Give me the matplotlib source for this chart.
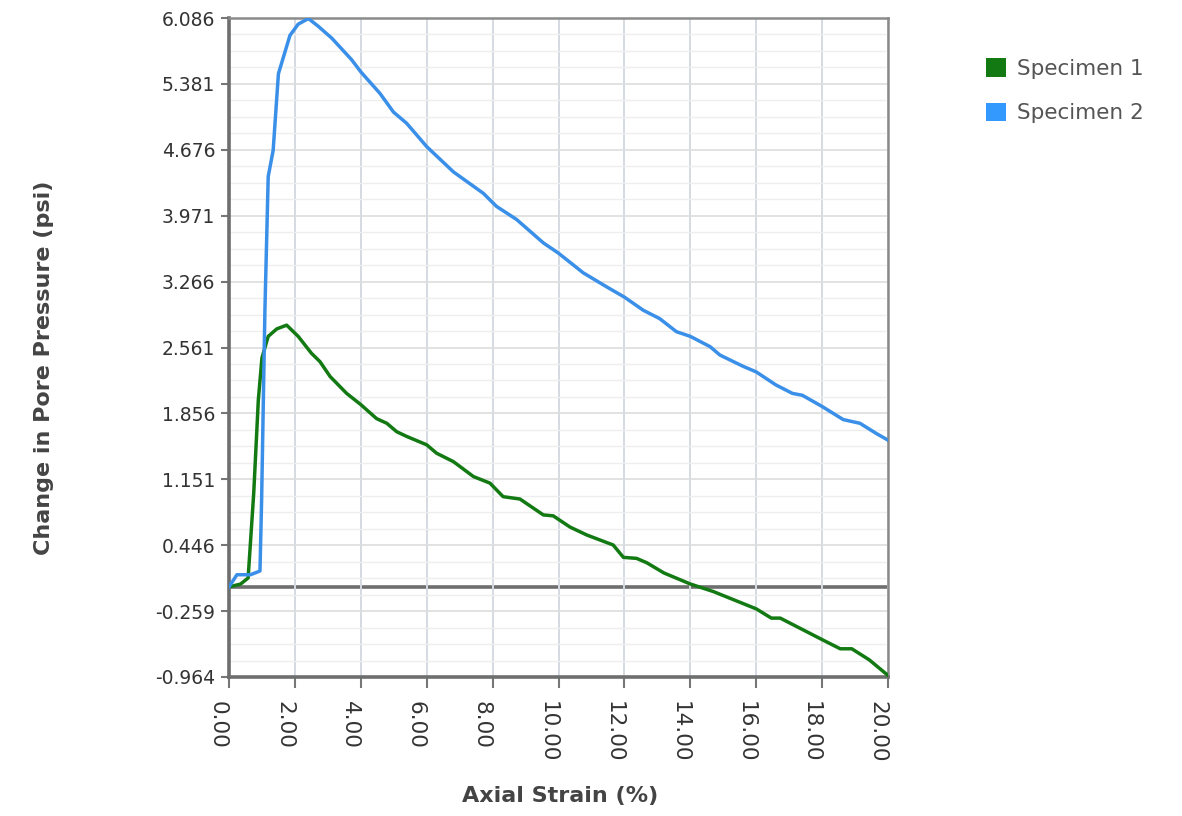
import matplotlib
matplotlib.use("Agg")
import matplotlib.pyplot as plt
import matplotlib.transforms as mtransforms
from matplotlib.patches import Patch

# ---- data ----
s1_x = [0.0, 0.35, 0.58, 0.75, 0.89, 1.0, 1.19, 1.45, 1.75, 2.1, 2.5, 2.76, 3.07, 3.57, 4.0,
        4.48, 4.79, 5.09, 5.39, 6.0, 6.3, 6.81, 7.42, 7.92, 8.32, 8.83, 9.54, 9.84, 10.35,
        10.86, 11.66, 11.97, 12.37, 12.68, 13.2, 14.0, 14.7, 16.0, 16.46, 16.73, 18.0,
        18.55, 18.9, 19.43, 20.0]
s1_y = [0.0, 0.03, 0.095, 1.0, 2.0, 2.45, 2.68, 2.76, 2.80, 2.68, 2.50, 2.41, 2.25, 2.07, 1.95,
        1.80, 1.75, 1.66, 1.61, 1.52, 1.43, 1.34, 1.18, 1.11, 0.965, 0.94, 0.77, 0.76, 0.64,
        0.555, 0.448, 0.316, 0.305, 0.258, 0.149, 0.031, -0.05, -0.235, -0.334, -0.334, -0.564,
        -0.662, -0.662, -0.78, -0.947]

s2_x = [0.0, 0.24, 0.65, 0.94, 0.99, 1.09, 1.19, 1.34, 1.50, 1.85, 2.1, 2.41, 2.7, 3.12, 3.72,
        4.0, 4.58, 4.99, 5.39, 6.0, 6.81, 7.72, 8.12, 8.73, 9.54, 10.0, 10.75, 11.46, 12.0,
        12.57, 13.07, 13.58, 14.0, 14.6, 14.9, 15.6, 16.0, 16.6, 17.1, 17.4, 18.0, 18.64,
        19.15, 19.65, 20.0]
s2_y = [0.0, 0.13, 0.13, 0.17, 0.93, 2.96, 4.39, 4.67, 5.49, 5.90, 6.02, 6.08, 6.0, 5.87, 5.64,
        5.51, 5.28, 5.08, 4.96, 4.71, 4.44, 4.21, 4.07, 3.93, 3.68, 3.57, 3.36, 3.21, 3.10,
        2.96, 2.87, 2.73, 2.68, 2.57, 2.48, 2.36, 2.30, 2.16, 2.07, 2.05, 1.93, 1.79,
        1.75, 1.64, 1.57]

series_names = ["Specimen 1", "Specimen 2"]
y_ticks = [-0.964, -0.259, 0.446, 1.151, 1.856, 2.561, 3.266, 3.971, 4.676, 5.381, 6.086]
y_tick_labels = ["-0.964", "-0.259", "0.446", "1.151", "1.856", "2.561", "3.266", "3.971",
                 "4.676", "5.381", "6.086"]
x_ticks = [0, 2, 4, 6, 8, 10, 12, 14, 16, 18, 20]
x_tick_labels = ["0.00", "2.00", "4.00", "6.00", "8.00", "10.00", "12.00", "14.00",
                 "16.00", "18.00", "20.00"]

GREEN = "#137a13"
BLUE = "#3a8fe8"

fig = plt.figure(figsize=(11.82, 8.16), dpi=100)
ax = fig.add_axes([229 / 1182, 1 - 677 / 816, (888 - 229) / 1182, (677 - 18) / 816])

ax.set_xlim(0, 20)
ax.set_ylim(y_ticks[0], y_ticks[-1])

# grid
minor_y = []
for a, b in zip(y_ticks[:-1], y_ticks[1:]):
    for k in (1, 2, 3):
        minor_y.append(a + (b - a) * k / 4)
ax.set_yticks(minor_y, minor=True)
ax.grid(axis="y", which="minor", color="#eeeeee", linewidth=1.0, zorder=0)
ax.grid(axis="y", which="major", color="#dddddd", linewidth=1.2, zorder=0)
ax.grid(axis="x", which="major", color="#d5dbe2", linewidth=1.4, zorder=0)

ax.axhline(0, color="#6e6e6e", linewidth=2.6, zorder=1)

ax.plot(s1_x, s1_y, color=GREEN, linewidth=2.5, zorder=3, solid_joinstyle="round")
ax.plot(s2_x, s2_y, color=BLUE, linewidth=2.5, zorder=3, solid_joinstyle="round")

ax.set_yticks(y_ticks)
ax.set_xticks(x_ticks)
ax.tick_params(axis="y", which="minor", length=0)
ax.tick_params(axis="y", direction="out", length=6, width=1.5, color="#777777", pad=4)
ax.tick_params(axis="x", direction="out", length=8, width=1.5, color="#777777", pad=9)
ax.set_yticklabels(y_tick_labels, fontsize=13.5, color="#333333")
ax.set_xticklabels(x_tick_labels, fontsize=15.5, color="#333333", rotation=270)

for side in ("left", "bottom"):
    ax.spines[side].set_color("#6e6e6e")
    ax.spines[side].set_linewidth(2.6)
for side in ("top", "right"):
    ax.spines[side].set_color("#8a8a8a")
    ax.spines[side].set_linewidth(1.8)

ax.set_xlabel("Axial Strain (%)", fontsize=16, fontweight="bold", color="#444444")
ax.set_ylabel("Change in Pore Pressure (psi)", fontsize=16, fontweight="bold", color="#444444")
ax.xaxis.set_label_coords((560 - 229) / 659, (677 - 786) / 659)
ax.yaxis.set_label_coords((54 - 229) / 659, (677 - 368) / 659)

# legend
handles = [Patch(facecolor=GREEN, edgecolor="none"), Patch(facecolor="#3399ff", edgecolor="none")]
leg = fig.legend(handles, series_names, loc="upper left",
                 bbox_to_anchor=(967 / 1182, 1 - 39 / 816),
                 frameon=False, fontsize=15.5, handlelength=0.93, handleheight=0.93,
                 handletextpad=0.5, labelspacing=1.1)
for t in leg.get_texts():
    t.set_color("#555555")

# shift x tick labels slightly left of their ticks, as in the reference
offset = mtransforms.ScaledTranslation(-0.11, 0, fig.dpi_scale_trans)
for lab in ax.xaxis.get_majorticklabels():
    lab.set_transform(lab.get_transform() + offset)

fig.savefig("out.png", dpi=100)
